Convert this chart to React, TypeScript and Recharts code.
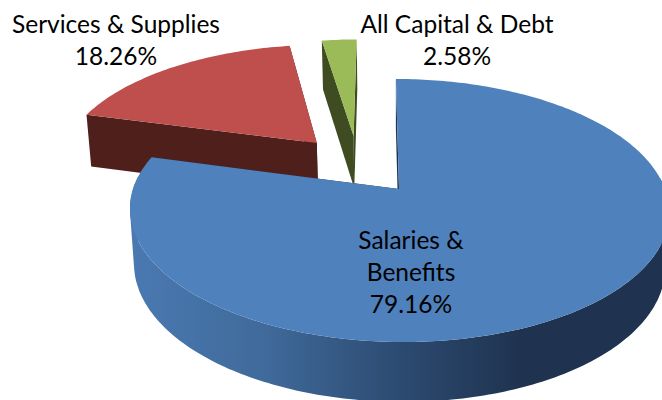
import { PieChart, Pie, Cell } from 'recharts';

// Painted back to front, so the big slice goes last and sweeps counter-clockwise
const categories = ['All Capital & Debt', 'Services & Supplies', 'Salaries & Benefits'];
const shares = [2.58, 18.26, 79.16];
const labelLines = [['All Capital & Debt'], ['Services & Supplies'], ['Salaries &', 'Benefits']];
const shareText = ['2.58%', '18.26%', '79.16%'];

const data = categories.map((name, i) => ({ name, value: shares[i] }));

const topColors = ['#9bbb59', '#be4f4d', '#4f81bd'];
const sideColors = ['#3f4b20', '#4f1f1b', '#1f3350'];
const explode = [
  [-0.177, 0.444],
  [-0.323, 0.382],
  [0, 0],
];
const labelPos = [
  [457, 33],
  [116, 33],
  [411, 249],
];

const FONT = 'Lato, "Open Sans", sans-serif';
const RAD = Math.PI / 180;

// tilted disc: unit circle to screen, with some perspective
function project(u: number, v: number, cx: number, cy: number, r: number) {
  const w = 1 + 0.1635 * v;
  return [(cx + r * u + 61.6 * v) / w, (cy - 97.1 * v) / w];
}

// same point on the underside of the disc
function drop([x, y]: number[]) {
  return [400 + (x - 400) * 0.985, y + 49 + 0.036 * (y - 39)];
}

function toPath(points: number[][]) {
  return 'M' + points.map((p) => `${p[0].toFixed(1)},${p[1].toFixed(1)}`).join('L') + 'Z';
}

// all quads wound the same way, so a single path fills them without seams
function wallQuad(a: number[], b: number[]) {
  const quad = [a, b, drop(b), drop(a)];
  let area = 0;
  quad.forEach((p, i) => {
    const q = quad[(i + 1) % 4];
    area += p[0] * q[1] - q[0] * p[1];
  });
  return toPath(area < 0 ? quad.reverse() : quad);
}

function Slice3D(props: any) {
  const { cx, cy, outerRadius, startAngle, endAngle, index } = props;
  const [ex, ey] = explode[index];
  const at = (u: number, v: number) => project(u + ex, v + ey, cx, cy, outerRadius);

  const steps = Math.max(2, Math.ceil(Math.abs(endAngle - startAngle)));
  const arc: number[][] = [];
  let wall = '';
  for (let i = 0; i <= steps; i++) {
    const a = (startAngle + ((endAngle - startAngle) * i) / steps) * RAD;
    arc.push(at(Math.cos(a), Math.sin(a)));
    // the far part of the rim is hidden behind the top face
    if (i > 0 && Math.sin(a) < 0.1) wall += wallQuad(arc[i - 1], arc[i]);
  }
  const apex = at(0, 0);
  const first = arc[0];
  const last = arc[arc.length - 1];
  const side = sideColors[index];

  return (
    <g>
      <path d={toPath([first, apex, drop(apex), drop(first)])} fill={side} />
      <path d={toPath([last, apex, drop(apex), drop(last)])} fill={side} />
      {wall && <path d={wall} fill="url(#blueWall)" />}
      <path d={toPath([apex, ...arc])} fill={topColors[index]} />
    </g>
  );
}

function SliceLabel(props: any) {
  const { index } = props;
  const [x, y] = labelPos[index];
  const lines = [...labelLines[index], shareText[index]];
  return (
    <text x={x} y={y} textAnchor="middle" fontFamily={FONT} fontSize={24.5} fill="#000">
      {lines.map((line, i) => (
        <tspan key={line} x={x} dy={i === 0 ? 0 : 32}>
          {line}
        </tspan>
      ))}
    </text>
  );
}

export default function App() {
  return (
    <div style={{ position: 'absolute', left: 0, top: 0, width: 662, height: 400, overflow: 'hidden' }}>
      <PieChart width={662} height={400} margin={{ top: 0, right: 0, bottom: 0, left: 0 }}>
        <defs>
          <linearGradient id="blueWall" gradientUnits="userSpaceOnUse" x1={130} y1={0} x2={520} y2={0}>
            <stop offset="0%" stopColor="#4a79b2" />
            <stop offset="35%" stopColor="#3f6a9a" />
            <stop offset="70%" stopColor="#2c4a70" />
            <stop offset="100%" stopColor="#1f3350" />
          </linearGradient>
        </defs>
        <Pie
          data={data}
          dataKey="value"
          nameKey="name"
          cx={399}
          cy={189}
          innerRadius={0}
          outerRadius={266}
          startAngle={90}
          endAngle={450}
          stroke="none"
          shape={Slice3D}
          label={SliceLabel}
          labelLine={false}
          isAnimationActive={false}
        >
          {data.map((entry, index) => (
            <Cell key={`cell-${index}`} fill={topColors[index]} />
          ))}
        </Pie>
      </PieChart>
    </div>
  );
}
